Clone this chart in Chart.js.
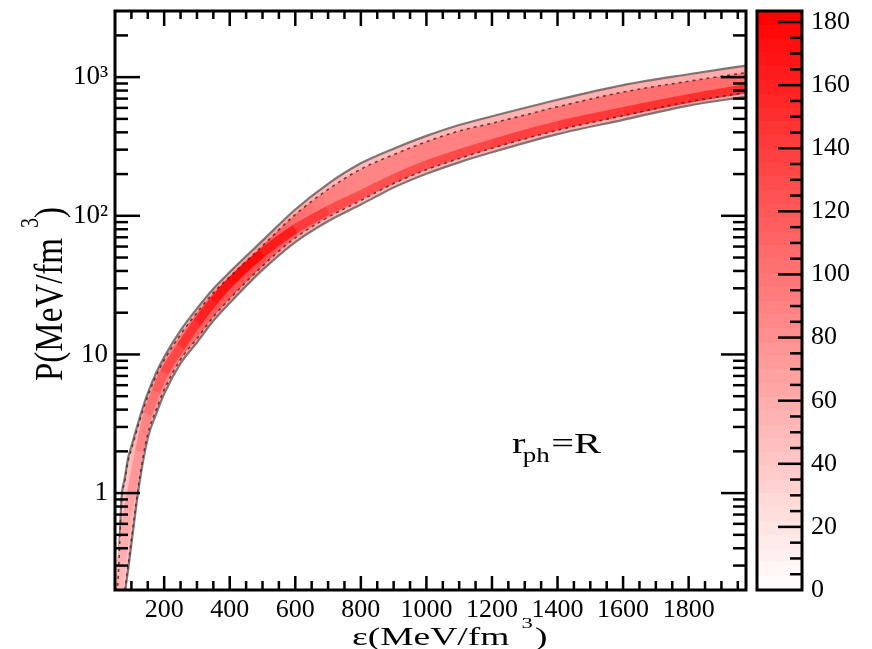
<!DOCTYPE html>
<html>
<head>
<meta charset="utf-8">
<script src="https://cdn.jsdelivr.net/npm/chart.js@4.4.0/dist/chart.umd.min.js"></script>
<style>
  html, body { margin: 0; padding: 0; background: #fff; }
  #wrap { position: relative; width: 872px; height: 649px; }
  #mainChart { position: absolute; left: 0; top: 0; }
  #barChart { position: absolute; left: 746px; top: 0; }
</style>
</head>
<body>
<div id="wrap">
  <canvas id="mainChart" width="872" height="649"></canvas>
  <canvas id="barChart" width="126" height="649"></canvas>
</div>
<script>
// energy density grid (MeV/fm^3)
const energyDensity = [55, 60, 70, 80, 90, 100, 125, 150, 175, 200, 250, 300, 350, 400, 500, 600, 700, 800, 900, 1000, 1100, 1200, 1400, 1600, 1800, 1975];
// pressure band edges (MeV/fm^3)
const pUpper = [0.18, 0.27, 0.92, 1.29, 1.79, 2.17, 3.48, 5.25, 7.32, 9.58, 14.9, 21.4, 29.8, 39.3, 66.2, 111, 170, 239, 305, 377, 452, 522, 687, 877, 1050, 1211];
const pLower = [0.05, 0.08, 0.13, 0.19, 0.28, 0.43, 1.20, 2.50, 3.69, 5.21, 8.63, 12.2, 17.5, 23.5, 40.7, 64.7, 91.4, 120.5, 160, 201, 243, 287, 388, 492, 624, 723];
// inner (dashed) contours
const pInnerUpper = [0.17, 0.25, 0.88, 1.22, 1.70, 2.06, 3.31, 4.99, 6.95, 9.10, 13.9, 20.0, 27.8, 36.3, 60.7, 102, 155, 217, 276, 342, 409, 465, 611, 780, 934, 1078];
const pInnerLower = [0.05, 0.08, 0.14, 0.20, 0.30, 0.46, 1.28, 2.67, 3.95, 5.57, 9.22, 13.0, 18.7, 25.2, 43.5, 69.4, 97.7, 129, 171, 215, 259, 307, 414, 527, 665, 773];
// densest ridge and its count
const pPeak = [0.12, 0.17, 0.32, 0.5, 0.75, 1.0, 2.0, 3.7, 5.4, 7.35, 11.3, 16.9, 24, 32.8, 54, 80.5, 109, 142, 185, 233, 280, 331, 447, 564, 700, 826];
const peakCounts = [45, 50, 55, 60, 65, 70, 80, 95, 110, 125, 140, 155, 165, 175, 178, 150, 132, 125, 125, 130, 130, 135, 140, 145, 150, 150];

// axis ticks
const pTickValues = [1, 10, 100, 1000];
const pTickLabels = ['1', '10', '10\u00B2', '10\u00B3'];
const countMax = 183.5;

const serif = '"Liberation Serif", "Times New Roman", serif';

function countColor(c) {
    const g = Math.round(255 * (1 - Math.max(0, Math.min(c, countMax)) / countMax));
    return `rgb(255,${g},${g})`;
}

function pts(arr) {
    return energyDensity.map((e, i) => ({ x: e, y: arr[i] }));
}

// horizontal gradient following the ridge counts
function bandGradient(factor) {
    return ctx => {
        const chart = ctx.chart;
        const area = chart.chartArea;
        if (!area) return countColor(60 * factor);
        const x = chart.scales.x;
        const grad = chart.ctx.createLinearGradient(area.left, 0, area.right, 0);
        energyDensity.forEach((e, i) => {
            const t = (x.getPixelForValue(e) - area.left) / (area.right - area.left);
            if (t >= 0 && t <= 1) grad.addColorStop(t, countColor(peakCounts[i] * factor));
        });
        return grad;
    };
}

function noPad(s) {
    s.paddingTop = 0;
    s.paddingBottom = 0;
    s.paddingLeft = 0;
    s.paddingRight = 0;
}

// inward tick marks and frame
const frameTicks = {
    id: 'frameTicks',
    afterDatasetsDraw(chart) {
        const { ctx, chartArea: a, scales: { x, y } } = chart;
        ctx.save();
        ctx.strokeStyle = '#000';
        ctx.lineWidth = 2.5;
        const seg = (x1, y1, x2, y2) => { ctx.beginPath(); ctx.moveTo(x1, y1); ctx.lineTo(x2, y2); ctx.stroke(); };
        for (let v = 50; v <= 1950; v += 50) {
            const px = x.getPixelForValue(v);
            if (px <= a.left + 2 || px >= a.right - 2) continue;
            const major = v % 200 === 0;
            seg(px, a.bottom, px, a.bottom - (major ? 14 : 9));
            seg(px, a.top, px, a.top + (major ? 15 : 8));
        }
        for (let d = -1; d <= 3; d++) {
            for (let m = 1; m <= 9; m++) {
                const v = m * Math.pow(10, d);
                if (v <= y.min || v >= y.max) continue;
                const py = y.getPixelForValue(v);
                const len = m === 1 ? 25 : 13;
                seg(a.left, py, a.left + len, py);
                seg(a.right, py, a.right - len, py);
            }
        }
        ctx.lineWidth = 3;
        ctx.strokeRect(a.left, a.top, a.right - a.left, a.bottom - a.top);
        ctx.restore();
    }
};

// axis titles and annotation
const labelText = {
    id: 'labelText',
    afterDraw(chart) {
        const { ctx } = chart;
        ctx.save();
        ctx.fillStyle = '#000';
        ctx.textBaseline = 'alphabetic';

        // x title
        ctx.save();
        ctx.translate(352, 645);
        ctx.scale(1.5, 1);
        ctx.font = `25px ${serif}`;
        const xt = '\u03B5(MeV/fm';
        ctx.fillText(xt, 0, 0);
        const w = ctx.measureText(xt).width;
        ctx.font = `15px ${serif}`;
        ctx.fillText('3', w + 8, -17);
        ctx.font = `25px ${serif}`;
        ctx.fillText(')', w + 17, 0);
        ctx.restore();

        // y title
        ctx.save();
        ctx.translate(62, 381);
        ctx.scale(1.22, 1);
        ctx.rotate(-Math.PI / 2);
        ctx.font = `33px ${serif}`;
        const yt = 'P(MeV/fm';
        ctx.fillText(yt, 0, 0);
        const wy = ctx.measureText(yt).width;
        ctx.font = `20px ${serif}`;
        ctx.fillText('3', wy + 10, -20);
        ctx.font = `33px ${serif}`;
        ctx.fillText(')', wy + 20, 0);
        ctx.restore();

        // annotation r_ph = R
        ctx.save();
        ctx.translate(512, 453);
        ctx.scale(1.35, 1);
        ctx.font = `30px ${serif}`;
        ctx.fillText('r', 0, 0);
        ctx.font = `20px ${serif}`;
        ctx.fillText('ph', 8, 9);
        ctx.font = `30px ${serif}`;
        ctx.fillText('=R', 29, 0);
        ctx.restore();

        ctx.restore();
    }
};

const edgeGrey = 'rgba(110,95,95,0.85)';
const dashDark = 'rgba(90,35,35,0.85)';

new Chart(document.getElementById('mainChart'), {
    type: 'line',
    data: {
        datasets: [
            {
                label: 'upper edge',
                data: pts(pUpper),
                borderColor: edgeGrey,
                borderWidth: 2.2,
                backgroundColor: bandGradient(0.4),
                fill: '+1',
                order: 6
            },
            {
                label: 'lower edge',
                data: pts(pLower),
                borderColor: edgeGrey,
                borderWidth: 2.2,
                fill: false,
                order: 6
            },
            {
                label: 'inner upper',
                data: pts(pInnerUpper),
                borderColor: dashDark,
                borderWidth: 1.6,
                borderDash: [3, 4],
                backgroundColor: bandGradient(0.7),
                fill: '+1',
                order: 2
            },
            {
                label: 'inner lower',
                data: pts(pInnerLower),
                borderColor: dashDark,
                borderWidth: 1.6,
                borderDash: [3, 4],
                fill: false,
                order: 2
            },
            {
                label: 'peak',
                data: pts(pPeak),
                borderWidth: 9,
                borderColor: countColor(150),
                segment: {
                    borderColor: ctx => countColor((peakCounts[ctx.p0DataIndex] + peakCounts[ctx.p1DataIndex]) / 2)
                },
                fill: false,
                order: 4
            }
        ]
    },
    options: {
        responsive: false,
        animation: false,
        parsing: false,
        elements: {
            point: { radius: 0 },
            line: { cubicInterpolationMode: 'monotone' }
        },
        layout: { padding: { left: 0, top: 11, right: 126, bottom: 0 } },
        plugins: {
            legend: { display: false },
            tooltip: { enabled: false },
            filler: { drawTime: 'beforeDatasetsDraw' }
        },
        scales: {
            x: {
                type: 'linear',
                min: 50,
                max: 1975,
                afterFit: s => { s.height = 59; noPad(s); },
                grid: { display: false, drawTicks: false },
                border: { display: false },
                ticks: {
                    stepSize: 200,
                    includeBounds: false,
                    autoSkip: false,
                    maxRotation: 0,
                    padding: 5,
                    color: '#000',
                    font: { family: serif, size: 26 },
                    callback: v => String(v)
                }
            },
            y: {
                type: 'logarithmic',
                min: 0.2,
                max: 3000,
                afterFit: s => { s.width = 115; noPad(s); },
                afterBuildTicks: s => { s.ticks = pTickValues.map(v => ({ value: v })); },
                grid: { display: false, drawTicks: false },
                border: { display: false },
                ticks: {
                    autoSkip: false,
                    padding: 7,
                    color: '#000',
                    font: { family: serif, size: 27 },
                    callback: (v, i) => pTickLabels[i]
                }
            }
        }
    },
    plugins: [frameTicks, labelText]
});

// colour bar
const colorbarTicks = {
    id: 'colorbarTicks',
    afterDraw(chart) {
        const { ctx, chartArea: a, scales: { y } } = chart;
        ctx.save();
        ctx.strokeStyle = '#000';
        ctx.lineWidth = 2.5;
        for (let v = 5; v < countMax; v += 5) {
            const py = y.getPixelForValue(v);
            const len = v % 20 === 0 ? 24 : 12;
            ctx.beginPath();
            ctx.moveTo(a.right, py);
            ctx.lineTo(a.right - len, py);
            ctx.stroke();
        }
        ctx.lineWidth = 3;
        ctx.strokeRect(a.left, a.top, a.right - a.left, a.bottom - a.top);
        ctx.restore();
    }
};

new Chart(document.getElementById('barChart'), {
    type: 'bar',
    data: {
        labels: [''],
        datasets: [{
            data: [countMax],
            borderWidth: 0,
            barPercentage: 1,
            categoryPercentage: 1,
            backgroundColor: ctx => {
                const chart = ctx.chart;
                if (!chart.chartArea) return countColor(90);
                const y = chart.scales.y;
                const y0 = y.getPixelForValue(0);
                const y1 = y.getPixelForValue(countMax);
                const grad = chart.ctx.createLinearGradient(0, y0, 0, y1);
                const steps = 42;
                for (let k = 0; k < steps; k++) {
                    const c = countColor((k + 0.5) * countMax / steps);
                    grad.addColorStop(k / steps, c);
                    grad.addColorStop((k + 1) / steps, c);
                }
                return grad;
            }
        }]
    },
    options: {
        responsive: false,
        animation: false,
        layout: { padding: { left: 11, top: 11, bottom: 59, right: 0 } },
        plugins: {
            legend: { display: false },
            tooltip: { enabled: false }
        },
        scales: {
            x: { display: false },
            y: {
                position: 'right',
                min: 0,
                max: countMax,
                afterFit: s => { s.width = 70; noPad(s); },
                grid: { display: false, drawTicks: false },
                border: { display: false },
                ticks: {
                    stepSize: 20,
                    includeBounds: false,
                    padding: 9,
                    color: '#000',
                    font: { family: serif, size: 26 }
                }
            }
        }
    },
    plugins: [colorbarTicks]
});
</script>
</body>
</html>
